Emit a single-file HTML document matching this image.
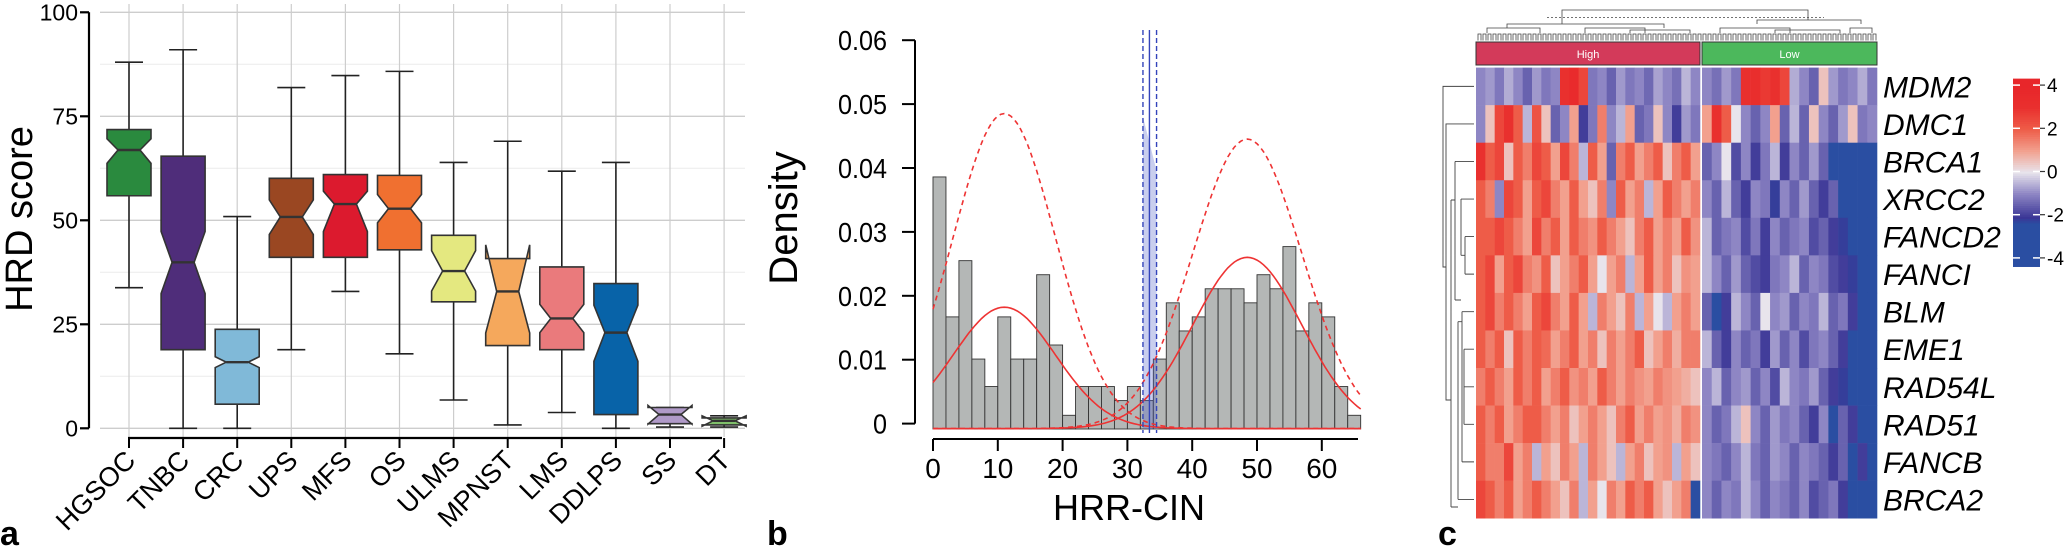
<!DOCTYPE html>
<html><head><meta charset="utf-8"><style>
body{margin:0;background:#fff}
svg{display:block;font-family:"Liberation Sans",sans-serif}
</style></head><body>
<svg id="fig" width="2067" height="553" viewBox="0 0 2067 553" xmlns="http://www.w3.org/2000/svg">
<g id="pa"></g>
<g id="pb"></g>
<g id="pc"></g>
</svg>
<script>
// ---------- Panel A data ----------
const boxCategories=["HGSOC","TNBC","CRC","UPS","MFS","OS","ULMS","MPNST","LMS","DDLPS","SS","DT"];
const whiskerHigh=[88,91,50.9,81.9,84.8,85.8,63.9,69,61.8,63.9,5,3];
const boxQ3=[71.8,65.4,23.8,60.1,61,60.8,46.4,40.8,38.8,34.8,5,2.5];
const boxMedian=[66.9,39.9,15.9,50.8,53.9,52.8,37.8,32.9,26.4,23,3.3,1.8];
const boxQ1=[55.9,18.9,5.8,41.1,41.1,42.9,30.4,19.9,18.9,3.3,1.1,0.8];
const whiskerLow=[33.8,0,0,18.9,32.9,17.9,6.8,0.8,3.8,0,0.3,0.3];
const notchHigh=[69.6,47.3,17.2,54.9,57,56.2,42.7,44.1,29.8,29.6,5.5,3];
const notchLow=[63.7,32.4,14.6,46.6,47.3,49.4,33,22.9,23,16.1,1,0.5];
const boxColors=["#2a8a3e","#4f2d7a","#80b9d8","#9a4722","#dc1a2e","#f07030","#e4e880","#f5a85c","#ea7a7c","#0863a8","#b09ac8","#7fbf6a"];
const yTicksA=[0,25,50,75,100];
// ---------- Panel B data ----------
const histDensity=[0.0386,0.0167,0.0255,0.0101,0.0058,0.0167,0.0101,0.0101,0.0233,0.0123,0.0013,0.0058,0.0058,0.0058,0.0036,0.0058,0.0036,0.0101,0.0189,0.0145,0.0167,0.0211,0.0211,0.0211,0.0189,0.0233,0.0211,0.0277,0.0145,0.0189,0.0167,0.0058,0.0013];
const binWidth=2;
const compMeans=[11,48.5];
const compSds=[7.9,8.4];
const compPeaksSolid=[0.019,0.0268];
const compPeaksDashed=[0.0493,0.0453];
const cutLines=[32.4,33.4,34.5];
const xTicksB=[0,10,20,30,40,50,60];
const yTicksB=[0,0.01,0.02,0.03,0.04,0.05,0.06];
const yTickLabelsB=["0","0.01","0.02","0.03","0.04","0.05","0.06"];
// ---------- Panel C data ----------
const genes=["MDM2","DMC1","BRCA1","XRCC2","FANCD2","FANCI","BLM","EME1","RAD54L","RAD51","FANCB","BRCA2"];
const highVals=[
[-1,-0.8,-1.2,-0.6,-1,-1.5,-0.8,-1.2,-1,3,3.5,2.5,-1.2,-1,-1.5,-0.8,-1.2,-1,-1.4,-0.7,-1,-1.3,-0.5,-1],
[-1,0.5,2.5,3,2,-0.5,2.2,0.5,-1.5,-1,1,-2,-1.2,1.5,-1,-0.5,1,-1.5,-1.2,0.5,-1,-2,-0.8,-1.2],
[3,2,2.5,0.5,2,1.5,2.5,2,1,2.5,1.5,-0.5,2,1,-1.5,1.5,2,1,1.5,2,0.5,1.5,2,1],
[2,1.5,-1,2.5,2,1,2,2.5,1.5,1,2,1,0.5,1.5,-1,2,1,1.5,-0.5,1,2,1.5,1,1.5],
[2,2,2.5,2,1.5,1,2.5,1.5,2,1,2,1.5,1.2,2,1.5,1,0.5,1.5,2,1,1.5,1,2,1.2],
[2,2.5,1,2,2.5,1.5,1.2,2,0.5,1,1.5,2,1,0,1,1.5,-0.5,1,2,1,1.5,0.5,1.2,1],
[2,2.5,1.5,2,1.5,1,2,2.5,1.5,1,2,1,-0.5,1.5,1,0.5,1.5,-0.5,1,0,-0.5,1,1.5,1],
[2,1.5,2,0.5,2,1.5,2,1.8,1,1.5,2,1,1.5,0.5,1.5,1,1.5,2,0.5,1,1.5,0.8,1.5,1.5],
[1.5,2,1.5,1,2,1.5,2,1,1.5,2,1.2,1.5,1,2,1.5,1,1.5,1.2,1,1.5,1.2,1,0.8,0.5],
[2,1.5,2,1,1.5,2,2,1.5,1,1.5,0.5,1,1.5,1,0.5,1.5,2,1,1.5,1,1.2,0.8,1.5,1.2],
[2,1.5,1.5,2.5,1,1.5,-0.5,1,0.5,1.5,1,-0.5,1.5,1,0.5,-0.5,1,1.5,0.5,1,1.2,-0.5,1,0.5],
[2.5,2,1.5,2,1,1.5,2,1.5,1,0.5,1.5,-0.5,1,0,1.5,1,2,1.5,2,1,0.5,1,1.5,-4]];
const lowVals=[
[-1,-1.3,-0.8,-1.2,3,3.2,2.8,3,2.5,-0.6,-1,-1.5,0.5,-0.8,-1.2,-1,-0.6,-1.2],
[1,3,2,0,-1,-1.5,-1,1,-1.5,-0.5,-1.5,0.5,-1,-1.5,-0.8,0.5,-1.2,-1],
[-1.5,-1,0,-1.8,-1,-2,-1.2,-0.5,-2,-1,-1.5,-0.8,-1.5,-2.5,-3,-2.8,-3.5,-4],
[-1,-1.5,-0.5,-1.5,-2,-1,-1.2,-2.2,-1,-1.5,-0.8,-1.5,-2,-1.5,-2.5,-3,-3.2,-4],
[-0.5,-1.5,-1.2,-1,-1.8,-1.2,-2,-1,-1.5,-1.2,-1,-1.8,-1.5,-2,-2.2,-2.5,-3,-4],
[-0.5,-1,-1.5,-0.8,-1.5,-1.8,-2,-1.2,-1,-0.5,-1.5,-1,-1.2,-1.8,-2,-2.2,-3,-4],
[-1.5,-2.5,-2,-0.5,-1,-1.5,0,-1,-0.8,-1.5,-1,-1.2,-0.5,-1.5,-1.2,-2,-2.5,-4],
[-0.5,-1.5,-2,-1,-1.5,-1.2,-2,-0.8,-1.5,-1,-1.8,-1.2,-1,-1.5,-2,-2.5,-3,-4],
[-1,-0.5,-1.5,-1,-0.8,-1.5,-1,-1.8,-0.5,-1,-1.2,-0.8,-1.5,-2,-2.2,-3,-3.5,-4],
[-1,-1.5,-1.2,-0.5,0.5,-1,-1.5,-0.8,-1.2,-1,-1.5,-2,-1,-3,-1.5,-2,-3,-4],
[-1,-1.2,-1.5,-1,-0.5,-1.2,-1.5,-0.8,-1,-1.5,-1,-1.2,-1.5,-2,-1.5,-2.5,-2,-4],
[-1,-1.5,-1,-1.2,-0.5,-1,-1.5,-1,-1.2,-1.5,-1,-1.8,-1.5,-1.2,-2,-2.5,-2.8,-3]];
const legendTicks=[4,2,0,-2,-4];

const NS="http://www.w3.org/2000/svg";
function mk(tag,attrs,parent,txt){const e=document.createElementNS(NS,tag);for(const k in attrs)e.setAttribute(k,attrs[k]);if(txt!==undefined)e.textContent=txt;parent.appendChild(e);return e;}

// ================= PANEL A =================
const pa=document.getElementById('pa');
const ya=v=>428.3-4.16*v;
const xa=i=>129+54.1*i;
for(let v=0;v<=100;v+=12.5){
  const major=v%25===0;
  const g=mk('line',{x1:100,x2:745,y1:ya(v),y2:ya(v),stroke:major?'#cdcdcd':'#ececec','stroke-width':major?1.3:1},pa);
  
  
}
boxCategories.forEach((c,i)=>{
  const g=mk('line',{x1:xa(i),x2:xa(i),y1:4,y2:437,stroke:'#cdcdcd','stroke-width':1.2},pa);
  
  
});
const yax=mk('line',{x1:89,x2:89,y1:ya(100),y2:ya(0),stroke:'#000','stroke-width':2.2},pa);


yTicksA.forEach(v=>{
  const t=mk('line',{x1:80,x2:89,y1:ya(v),y2:ya(v),stroke:'#000','stroke-width':2.2},pa);
  
  
  const l=mk('text',{x:78,y:ya(v)+8,'text-anchor':'end','font-size':23},pa,String(v));
  
  
});
const yt=mk('text',{x:0,y:0,transform:'translate(32,219) rotate(-90)','text-anchor':'middle','font-size':38},pa,'HRD score');


const xax=mk('line',{x1:128,x2:722,y1:438,y2:438,stroke:'#000','stroke-width':2.2},pa);


boxCategories.forEach((c,i)=>{
  const x=xa(i);
  const t=mk('line',{x1:x,x2:x,y1:438,y2:448,stroke:'#000','stroke-width':2},pa);
  
  
  const l=mk('text',{x:0,y:0,transform:`translate(${x+8},${462}) rotate(-45)`,'text-anchor':'end','font-size':27},pa,c);
  
  
  const w=mk('line',{x1:x,x2:x,y1:ya(whiskerHigh[i]),y2:ya(whiskerLow[i]),stroke:'#222','stroke-width':1.6},pa);
  
  
  [whiskerHigh[i],whiskerLow[i]].forEach(v=>{
    const cp=mk('line',{x1:x-14,x2:x+14,y1:ya(v),y2:ya(v),stroke:'#222','stroke-width':1.6},pa);
    
    
  });
  const hw=22, iw=hw*0.5;
  const pts=[[x-hw,ya(boxQ3[i])],[x+hw,ya(boxQ3[i])],[x+hw,ya(notchHigh[i])],[x+iw,ya(boxMedian[i])],[x+hw,ya(notchLow[i])],[x+hw,ya(boxQ1[i])],[x-hw,ya(boxQ1[i])],[x-hw,ya(notchLow[i])],[x-iw,ya(boxMedian[i])],[x-hw,ya(notchHigh[i])]];
  const b=mk('polygon',{points:pts.map(p=>p.join(',')).join(' '),fill:boxColors[i],stroke:'#333','stroke-width':1.6},pa);
  
  
  const m=mk('line',{x1:x-iw,x2:x+iw,y1:ya(boxMedian[i]),y2:ya(boxMedian[i]),stroke:'#333','stroke-width':2.4},pa);
  
  
});
const la=mk('text',{x:0,y:545,'font-size':34,'font-weight':'bold'},pa,'a');



// ================= PANEL B =================
const pb=document.getElementById('pb');
const xb=v=>933+6.48*v;
const yb=v=>423.6-6390*v;
const base=429;
histDensity.forEach((d,i)=>{
  const x0=xb(i*binWidth),x1=xb((i+1)*binWidth);
  const r=mk('rect',{x:x0,y:yb(d),width:x1-x0,height:base-yb(d),fill:'#b4b7b6',stroke:'#333','stroke-width':0.9},pb);
  
  
});
let sp=`M${xb(cutLines[0])},${base}`;
for(let t=cutLines[0];t<=cutLines[2]+0.001;t+=0.1){const v=0.048-(t-cutLines[0])*0.004;sp+=` L${xb(t)},${yb(v)}`;}
sp+=` L${xb(cutLines[2])},${base}Z`;
const shade=mk('path',{d:sp,fill:'#4d5cc8','fill-opacity':0.3},pb);


function gauss(peak,mu,sd,t){return peak*Math.exp(-(t-mu)*(t-mu)/(2*sd*sd));}
[[compPeaksSolid,'none','solid'],[compPeaksDashed,'5,4','dashed']].forEach(([peaks,dash,nm])=>{
  for(let k=0;k<2;k++){
    let d='';
    for(let t=0;t<=66;t+=0.5){const v=gauss(peaks[k],compMeans[k],compSds[k],t);d+=(t===0?'M':'L')+xb(t).toFixed(1)+','+(yb(v)+5).toFixed(1)+' ';}
    const p=mk('path',{d:d,fill:'none',stroke:'#ee3333','stroke-width':1.6,'stroke-dasharray':dash},pb);
    
    
  }
});
cutLines.forEach((c,i)=>{
  const l=mk('line',{x1:xb(c),x2:xb(c),y1:30,y2:433,stroke:'#3344bb','stroke-width':1.4,'stroke-dasharray':i===1?'none':'5,3'},pb);
  
  
});
const ybx=mk('line',{x1:915,x2:915,y1:yb(0.06),y2:yb(0),stroke:'#000','stroke-width':2},pb);


yTicksB.forEach((v,i)=>{
  const t=mk('line',{x1:902,x2:915,y1:yb(v),y2:yb(v),stroke:'#000','stroke-width':2},pb);
  
  
  const l=mk('text',{x:887,y:yb(v)+10,'text-anchor':'end','font-size':28,transform:`translate(${887*0.1},0) scale(0.9,1)`},pb,yTickLabelsB[i]);
  
  
});
const xbx=mk('line',{x1:933,x2:1358,y1:439,y2:439,stroke:'#000','stroke-width':2},pb);


xTicksB.forEach(v=>{
  const t=mk('line',{x1:xb(v),x2:xb(v),y1:439,y2:451,stroke:'#000','stroke-width':2},pb);
  
  
  const l=mk('text',{x:xb(v),y:478,'text-anchor':'middle','font-size':28},pb,String(v));
  
  
});
const dt=mk('text',{x:0,y:0,transform:'translate(797,218) rotate(-90)','text-anchor':'middle','font-size':40},pb,'Density');


const ht=mk('text',{x:1129,y:520,'text-anchor':'middle','font-size':36},pb,'HRR-CIN');


const lb=mk('text',{x:767,y:545,'font-size':34,'font-weight':'bold'},pb,'b');



// ================= PANEL C =================
const pc=document.getElementById('pc');
const stops=[[-4,[42,78,162]],[-2.4,[42,78,162]],[-2.1,[58,54,150]],[-1,[142,134,196]],[0,[232,228,236]],[1,[242,160,142]],[2,[238,92,72]],[3,[233,48,46]],[4,[232,38,42]]];
function col(v){v=Math.max(-4,Math.min(4,v));for(let i=0;i<stops.length-1;i++){const [a,ca]=stops[i],[b,cb]=stops[i+1];if(v>=a&&v<=b){const t=(v-a)/(b-a||1);return 'rgb('+ca.map((c,j)=>Math.round(c+(cb[j]-c)*t)).join(',')+')';}}return 'rgb(232,38,42)';}
const hmTop=67.6,rowH=37.55;
const hiX0=1476,hiX1=1700,loX0=1702,loX1=1877;
genes.forEach((g,r)=>{
  const y=hmTop+r*rowH;
  [[highVals[r],hiX0,hiX1,'high'],[lowVals[r],loX0,loX1,'low']].forEach(([vals,x0,x1,grp])=>{
    const w=(x1-x0)/vals.length;
    vals.forEach((v,c)=>{
      const cell=mk('rect',{x:x0+c*w,y:y,width:w+0.3,height:rowH+0.3,fill:col(v)},pc);
      
      
    });
  });
  const l=mk('text',{x:1883,y:y+rowH/2+11,'font-size':30,'font-style':'italic'},pc,g);
  
  
});
const ah=mk('rect',{x:hiX0,y:42,width:hiX1-hiX0,height:23,fill:'#d33a5a',stroke:'#333','stroke-width':1},pc);


const al=mk('rect',{x:loX0,y:42,width:loX1-loX0,height:23,fill:'#4cb85c',stroke:'#333','stroke-width':1},pc);


const th=mk('text',{x:(hiX0+hiX1)/2,y:58,'text-anchor':'middle','font-size':11,fill:'#fff'},pc,'High');


const tl=mk('text',{x:(loX0+loX1)/2,y:58,'text-anchor':'middle','font-size':11,fill:'#fff'},pc,'Low');


let dd='M1562,24 V10 H1808 V20 M1507,28 V24 H1664 V28 M1757,24 V20 H1861 V24 M1487,33 V28 H1540 V33 M1585,33 V28 H1645 V33 M1630,33 V30 H1690 V33 M1720,33 V28 H1790 V33 M1775,33 V30 H1840 V33 M1850,33 V28 H1872 V33 ';
for(let x=1478;x<1876;x+=5){dd+=`M${x},40.5 V34 H${x+3} V40.5 `;}
const dg=mk('path',{d:dd,fill:'none',stroke:'#444','stroke-width':0.8},pc);


const dot=mk('line',{x1:1547,x2:1824,y1:17.6,y2:17.6,stroke:'#444','stroke-width':0.8,'stroke-dasharray':'2,2'},pc);


const yc=i=>hmTop+rowH*(i+0.5);
let rd=`M1474,${yc(0)} H1443 V267 H1446 M1474,${yc(1)} H1446 V400 H1451 M1451,200 V507 M1451,200 H1455 M1451,507 H1458 M1455,${yc(2)} V300 M1474,${yc(2)} H1455 M1455,300 H1461 M1461,${yc(3)} V${(yc(4)+yc(5))/2} M1474,${yc(3)} H1461 M1461,${(yc(4)+yc(5))/2} H1465 M1465,${yc(4)} V${yc(5)} M1465,${yc(4)} H1474 M1465,${yc(5)} H1474 M1458,${yc(6)+10} V${yc(11)} M1458,${yc(11)} H1474 M1458,${yc(6)+10} H1462 M1462,${yc(6)} V${yc(10)} M1462,${yc(10)} H1474 M1462,${yc(6)} H1474 `;
rd+=`M1464,${yc(7)} V${yc(9)} M1464,${yc(7)} H1474 M1464,${yc(9)} H1474 M1464,${yc(8)} H1474`;
const rdp=mk('path',{d:rd,fill:'none',stroke:'#444','stroke-width':0.9},pc);


// color legend
const lgY=v=>171.5-v*21.6;
for(let v=4.3;v>-4.35;v-=0.1){
  const s=mk('rect',{x:2013,y:lgY(v),width:27,height:2.6,fill:col(v)},pc);
  
  
}
legendTicks.forEach(v=>{
  const a=mk('line',{x1:2013,x2:2020,y1:lgY(v),y2:lgY(v),stroke:'#fff','stroke-width':1.5},pc);
  
  
  const b=mk('line',{x1:2033,x2:2040,y1:lgY(v),y2:lgY(v),stroke:'#fff','stroke-width':1.5},pc);
  
  
  const c=mk('line',{x1:2040,x2:2045,y1:lgY(v),y2:lgY(v),stroke:'#333','stroke-width':1.2},pc);
  
  
  const t=mk('text',{x:2047,y:lgY(v)+7,'font-size':19},pc,String(v));
  
  
});
const lc=mk('text',{x:1438,y:545,'font-size':34,'font-weight':'bold'},pc,'c');


</script>
</body></html>
